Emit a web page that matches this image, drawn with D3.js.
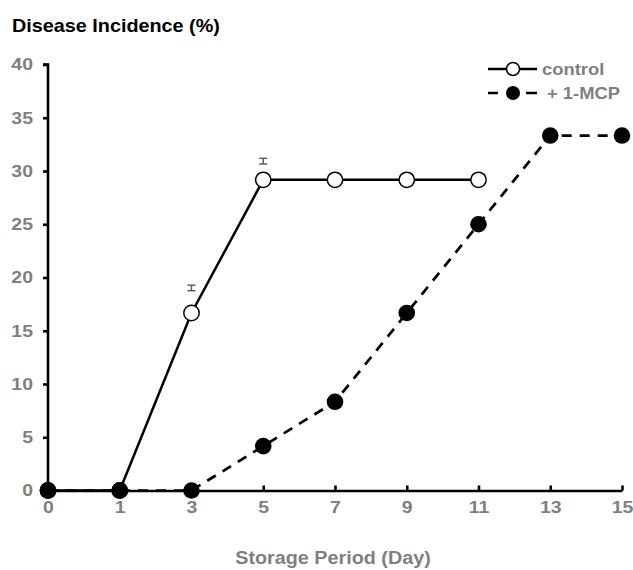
<!DOCTYPE html>
<html>
<head>
<meta charset="utf-8">
<script src="https://cdn.jsdelivr.net/npm/d3@7"></script>
<style>
  body { margin: 0; background: #fff; }
  svg text { font-family: "Liberation Sans", Arial, sans-serif; font-weight: bold; }
</style>
</head>
<body>
<svg width="633" height="570"></svg>
<script>
// data
var days = ["0", "1", "3", "5", "7", "9", "11", "13", "15"];
var controlDays = ["0", "1", "3", "5", "7", "9", "11"];
var controlVals = [0, 0, 16.67, 29.17, 29.17, 29.17, 29.17];
var mcpVals = [0, 0, 0, 4.17, 8.33, 16.67, 25, 33.33, 33.33];
// error bars (only the ones visible in the figure)
var errDays = ["3", "5"];
var errLow = [18.76, 30.66];
var errHigh = [19.28, 31.19];
var yTicks = [0, 5, 10, 15, 20, 25, 30, 35, 40];

var sx = 1.18; // text in the figure is a bit stretched horizontally
var grey = "#7f7f7f";

var svg = d3.select("svg");
var g = svg.append("g");

var x = d3.scalePoint().domain(days).range([48, 622]);
var y = d3.scaleLinear().domain([0, 40]).range([490.5, 64.5]);

// adds a text stretched horizontally around its anchor point
function stretchedText(sel, px, py, txt, size, fill, anchor, k) {
  return sel.append("text")
    .attr("transform", "translate(" + px + "," + py + ") scale(" + k + ",1)")
    .attr("text-anchor", anchor || "start")
    .attr("fill", fill)
    .style("font-size", size + "px")
    .text(txt);
}

// y axis
var yAxis = g.append("g")
    .attr("transform", "translate(48,0)")
    .call(d3.axisLeft(y).tickValues(yTicks).tickSize(5).tickPadding(10));
yAxis.select(".domain").attr("stroke", "#000").attr("stroke-width", 2.6)
    .attr("d", "M-5," + y(40) + "H0V" + y(0));
yAxis.selectAll(".tick line").attr("stroke", "#000").attr("stroke-width", 2.6);
yAxis.selectAll(".tick text")
    .attr("fill", grey).style("font-size", "16.5px")
    .attr("x", -15 / sx).attr("transform", "scale(" + sx + ",1)");

// x axis (ticks pointing inward)
var xAxis = g.append("g")
    .attr("transform", "translate(0," + y(0) + ")")
    .call(d3.axisBottom(x).tickSizeInner(-5).tickSizeOuter(0).tickPadding(11));
xAxis.select(".domain").attr("stroke", "#000").attr("stroke-width", 2.6);
xAxis.selectAll(".tick line").attr("stroke", "#000").attr("stroke-width", 2.6);
xAxis.selectAll(".tick text")
    .attr("fill", grey).style("font-size", "16.5px")
    .attr("transform", "scale(" + sx + ",1)");

// titles
stretchedText(svg, 12, 32, "Disease Incidence (%)", 18, "#000", "start", 1.1);
stretchedText(svg, 333, 564, "Storage Period (Day)", 17.5, grey, "middle", 1.13);

var line = d3.line()
    .x(function(d) { return x(d[0]); })
    .y(function(d) { return y(d[1]); });

var mcpData = days.map(function(d, i) { return [d, mcpVals[i]]; });
var ctrlData = controlDays.map(function(d, i) { return [d, controlVals[i]]; });

// + 1-MCP line
g.append("path").datum(mcpData)
    .attr("d", line).attr("fill", "none")
    .attr("stroke", "#000").attr("stroke-width", 2.7)
    .attr("stroke-dasharray", "10,8");

// control line
g.append("path").datum(ctrlData)
    .attr("d", line).attr("fill", "none")
    .attr("stroke", "#000").attr("stroke-width", 2.5);

// error bars
errDays.forEach(function(d, i) {
  var eg = g.append("g").attr("stroke", "#555").attr("stroke-width", 1.4);
  eg.append("line").attr("x1", x(d)).attr("x2", x(d))
    .attr("y1", y(errLow[i])).attr("y2", y(errHigh[i]));
  eg.append("line").attr("x1", x(d) - 4).attr("x2", x(d) + 4)
    .attr("y1", y(errLow[i])).attr("y2", y(errLow[i]));
  eg.append("line").attr("x1", x(d) - 4).attr("x2", x(d) + 4)
    .attr("y1", y(errHigh[i])).attr("y2", y(errHigh[i]));
});

// points
g.append("g").selectAll("circle")
    .data(ctrlData).enter().append("circle")
    .attr("cx", function(d) { return x(d[0]); })
    .attr("cy", function(d) { return y(d[1]); })
    .attr("r", 7.7).attr("fill", "#fff")
    .attr("stroke", "#000").attr("stroke-width", 1.5);

g.append("g").selectAll("circle")
    .data(mcpData).enter().append("circle")
    .attr("cx", function(d) { return x(d[0]); })
    .attr("cy", function(d) { return y(d[1]); })
    .attr("r", 8.3).attr("fill", "#000");

// legend
var leg = svg.append("g");
leg.append("line").attr("x1", 488).attr("x2", 537).attr("y1", 69).attr("y2", 69)
    .attr("stroke", "#000").attr("stroke-width", 2.5);
leg.append("circle").attr("cx", 513).attr("cy", 69).attr("r", 6.5)
    .attr("fill", "#fff").attr("stroke", "#000").attr("stroke-width", 1.5);
stretchedText(leg, 542, 75, "control", 16, grey, "start", 1.15);

leg.append("line").attr("x1", 488).attr("x2", 537).attr("y1", 93).attr("y2", 93)
    .attr("stroke", "#000").attr("stroke-width", 2.7).attr("stroke-dasharray", "10,28,11");
leg.append("circle").attr("cx", 513).attr("cy", 93).attr("r", 7).attr("fill", "#000");
stretchedText(leg, 547, 99, "+ 1-MCP", 16, grey, "start", 1.15);
</script>
</body>
</html>
